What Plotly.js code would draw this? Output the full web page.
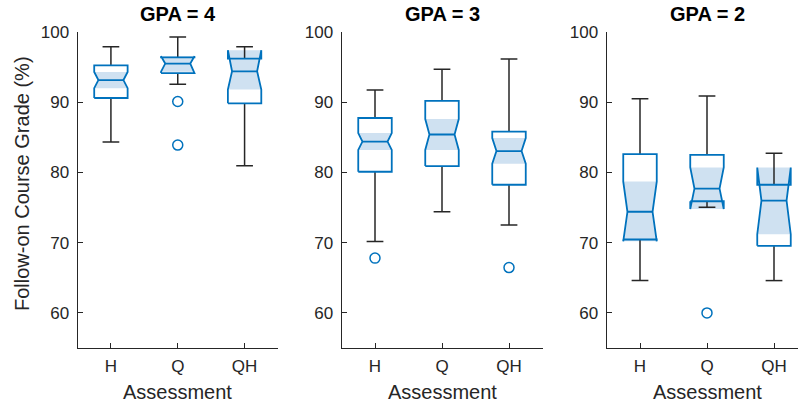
<!DOCTYPE html>
<html>
<head>
<meta charset="utf-8">
<script src="https://cdn.plot.ly/plotly-3.0.1.min.js"></script>
<style>html,body{margin:0;padding:0;background:#fff;overflow:hidden}</style>
</head>
<body>
<div id="chart" style="width:798px;height:406px"></div>
<script>
// ---- data ----
const groups = ['GPA = 4', 'GPA = 3', 'GPA = 2'];
const categories = ['H', 'Q', 'QH'];
const whiskerHigh = [[97.9, 99.3, 97.9], [91.75, 94.7, 96.15], [90.5, 90.9, 82.75]];
const q3Values    = [[95.25, 96.4, 96.2], [87.75, 90.2, 85.8], [82.6, 82.5, 78.25]];
const notchHigh   = [[94.3, 96.55, 97.4], [85.6, 87.6, 84.9], [78.7, 80.7, 80.7]];
const medians     = [[93.15, 95.5, 94.4], [84.4, 85.4, 83.05], [74.4, 77.7, 76.0]];
const notchLow    = [[92.0, 94.35, 91.8], [83.2, 83.2, 81.25], [70.2, 74.8, 71.2]];
const q1Values    = [[90.6, 94.15, 89.85], [80.1, 80.9, 78.25], [70.45, 75.9, 69.55]];
const whiskerLow  = [[84.35, 92.55, 80.95], [70.15, 74.4, 72.5], [64.6, 75.05, 64.6]];
const outlierValues = [[[], [90.1, 83.9], []], [[67.8], [], [66.45]], [[], [60.0], []]];
const yTicks = [60, 70, 80, 90, 100];
const yLabel = 'Follow-on Course Grade (%)';
const xLabel = 'Assessment';

// ---- styling ----
const BLUE = '#0072BD';
const SHADE = '#cfe1f1';
const DARK = '#262626';
const FONT = 'Liberation Sans, Arial, Helvetica, sans-serif';
const W = 0.25;          // half box width (data units)
const NW = 0.75 * W;     // half width at the median notch
const CW = 0.125;        // half whisker cap width

const traces = [];
groups.forEach((g, gi) => {
  const xa = 'x' + (gi === 0 ? '' : gi + 1);
  const ya = 'y' + (gi === 0 ? '' : gi + 1);
  const sx = [], sy = [], wx = [], wy = [], ox = [], oy = [], mx = [], my = [], px = [], py = [];
  categories.forEach((c, ci) => {
    const x = ci + 1;
    const nh = notchHigh[gi][ci], nl = notchLow[gi][ci], md = medians[gi][ci];
    const a = q3Values[gi][ci], b = q1Values[gi][ci];
    const wh = whiskerHigh[gi][ci], wl = whiskerLow[gi][ci];
    sx.push(x - W, x - NW, x - W, x + W, x + NW, x + W, x - W, null);
    sy.push(nh, md, nl, nl, md, nh, nh, null);
    wx.push(x, x, null, x, x, null, x - CW, x + CW, null, x - CW, x + CW, null);
    wy.push(a, wh, null, b, wl, null, wh, wh, null, wl, wl, null);
    ox.push(x - W, x - W, x - NW, x - W, x - W, x + W, x + W, x + NW, x + W, x + W, x - W, null);
    oy.push(b, nl, md, nh, a, a, nh, md, nl, b, b, null);
    mx.push(x - NW, x + NW, null);
    my.push(md, md, null);
    outlierValues[gi][ci].forEach(v => { px.push(x); py.push(v); });
  });
  traces.push({type: 'scatter', mode: 'lines', x: sx, y: sy, xaxis: xa, yaxis: ya,
    fill: 'toself', fillcolor: SHADE, line: {width: 0, color: SHADE}, hoverinfo: 'skip', showlegend: false});
  traces.push({type: 'scatter', mode: 'lines', x: wx, y: wy, xaxis: xa, yaxis: ya,
    line: {width: 1.5, color: DARK}, hoverinfo: 'skip', showlegend: false});
  traces.push({type: 'scatter', mode: 'lines', x: ox, y: oy, xaxis: xa, yaxis: ya,
    line: {width: 1.8, color: BLUE}, hoverinfo: 'skip', showlegend: false});
  traces.push({type: 'scatter', mode: 'lines', x: mx, y: my, xaxis: xa, yaxis: ya,
    line: {width: 1.8, color: BLUE}, hoverinfo: 'skip', showlegend: false});
  traces.push({type: 'scatter', mode: 'markers', x: px, y: py, xaxis: xa, yaxis: ya,
    marker: {symbol: 'circle-open', size: 10, color: BLUE, line: {width: 1.5, color: BLUE}},
    hoverinfo: 'skip', showlegend: false});
});

const FW = 798;
const domains = [[77.5 / FW, 278 / FW], [341.5 / FW, 542.5 / FW], [606.5 / FW, 1]];
const xRanges = [[0.5, 3.5], [0.5, 3.5], [0.5, 0.5 + (798 - 606.5) / 67]];

const layout = {
  width: 798, height: 406,
  margin: {l: 0, r: 0, t: 32, b: 58, pad: 0},
  paper_bgcolor: '#fff', plot_bgcolor: '#fff',
  font: {family: FONT, size: 17, color: DARK},
  showlegend: false,
  annotations: []
};
groups.forEach((g, gi) => {
  const sfx = gi === 0 ? '' : String(gi + 1);
  layout['xaxis' + sfx] = {
    domain: domains[gi], range: xRanges[gi], anchor: 'y' + sfx,
    tickmode: 'array', tickvals: [1, 2, 3], ticktext: categories,
    ticks: 'inside', ticklen: 5, tickwidth: 1, tickcolor: DARK, ticklabelstandoff: 3,
    showline: true, linecolor: DARK, linewidth: 1, showgrid: false, zeroline: false,
    tickfont: {family: FONT, size: 17, color: DARK}, fixedrange: true
  };
  layout['yaxis' + sfx] = {
    domain: [0, 1], range: [55, 100], anchor: 'x' + sfx,
    tickmode: 'array', tickvals: yTicks, ticktext: yTicks.map(String),
    ticks: 'inside', ticklen: 5, tickwidth: 1, tickcolor: DARK, ticklabelstandoff: 4,
    showline: true, linecolor: DARK, linewidth: 1, showgrid: false, zeroline: false,
    tickfont: {family: FONT, size: 17, color: DARK}, fixedrange: true
  };
  layout.annotations.push({
    text: '<b>' + g + '</b>', xref: 'x' + sfx, yref: 'paper', x: 2, y: 1.057,
    xanchor: 'center', yanchor: 'middle', showarrow: false,
    font: {family: FONT, size: 20, color: '#000'}
  });
  layout.annotations.push({
    text: xLabel, xref: 'x' + sfx, yref: 'paper', x: 2, y: -0.139,
    xanchor: 'center', yanchor: 'middle', showarrow: false,
    font: {family: FONT, size: 20, color: DARK}
  });
});
layout.annotations.push({
  text: yLabel, xref: 'paper', yref: 'paper', x: 22 / FW, y: 0.519,
  xanchor: 'center', yanchor: 'middle', textangle: -90, showarrow: false,
  font: {family: FONT, size: 20, color: DARK}
});

Plotly.newPlot('chart', traces, layout, {displayModeBar: false, staticPlot: true});
</script>
</body>
</html>
